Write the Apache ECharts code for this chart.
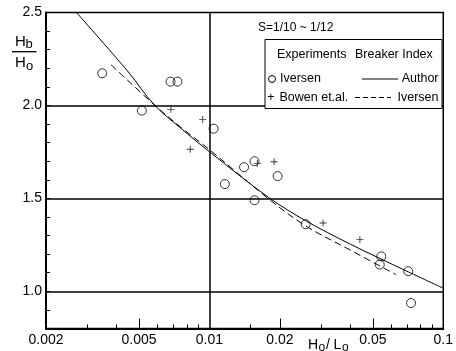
<!DOCTYPE html>
<html>
<head>
<meta charset="utf-8">
<script src="https://cdn.jsdelivr.net/npm/echarts@6/dist/echarts.min.js"></script>
<style>
html,body{margin:0;padding:0;background:#fff;}
#chart{width:456px;height:351px;}
</style>
</head>
<body>
<div id="chart"></div>
<script>
// ---- data ----
const iversenX = [0.00348, 0.00682, 0.0073, 0.00514, 0.01042, 0.01406, 0.01559, 0.01957, 0.01164, 0.01559, 0.0258, 0.0543, 0.0535, 0.0708, 0.0728];
const iversenY = [2.173, 2.128, 2.128, 1.972, 1.875, 1.668, 1.70, 1.62, 1.577, 1.49, 1.361, 1.188, 1.144, 1.108, 0.937];

const bowenX = [0.00684, 0.00936, 0.00828, 0.0189, 0.01602, 0.0306, 0.044];
const bowenY = [1.979, 1.925, 1.764, 1.697, 1.687, 1.368, 1.278];

const authorCurveX = [0.0027, 0.0045, 0.00579, 0.0075, 0.01, 0.018, 0.0258, 0.04, 0.0708, 0.1];
const authorCurveY = [2.5, 2.18, 2.005, 1.88, 1.751, 1.503, 1.38, 1.254, 1.105, 1.017];

const iversenCurveX = [0.0038, 0.00579, 0.0075, 0.01, 0.018, 0.0258, 0.04, 0.0628];
const iversenCurveY = [2.218, 2.005, 1.885, 1.762, 1.495, 1.352, 1.222, 1.09];

const xLabelValues = [0.002, 0.005, 0.01, 0.02, 0.05, 0.1];
const xMajorTickValues = [0.005, 0.02, 0.05];
const xMinorTickValues = [0.003, 0.004, 0.006, 0.007, 0.008, 0.009, 0.015, 0.03, 0.04, 0.06, 0.07, 0.08, 0.09];
const yLabelValues = [1.0, 1.5, 2.0, 2.5];
const gridLineY = [2.0, 1.5, 1.0];
const gridLineX = [0.01];

const legendTitle = 'S=1/10 ~ 1/12';
const legendHeaders = ['Experiments', 'Breaker Index'];
const legendNames = ['Iversen', 'Bowen et.al.', 'Author', 'Iversen'];

// ---- build ----
const zip = (xs, ys) => xs.map((x, i) => [x, ys[i]]);
const FONT = 'Liberation Sans, Arial, sans-serif';

const chart = echarts.init(document.getElementById('chart'), null, {renderer: 'canvas'});

const markData = gridLineY.map(v => ({yAxis: v})).concat(gridLineX.map(v => ({xAxis: v})));

const plusPath = 'path://M4,0h1.2v4h4v1.2h-4v4h-1.2v-4h-4v-1.2h4z';

const txt = (text, x, y, size, align) => ({
  type: 'text', x: x, y: y, z: 110,
  style: {text: text, fill: '#000', font: size + 'px ' + FONT, textAlign: align || 'left', textVerticalAlign: 'middle'}
});

chart.setOption({
  animation: false,
  backgroundColor: '#fff',
  grid: {left: 46, right: 8, top: 12.5, bottom: 22.5, show: true, borderColor: '#000', borderWidth: 1.5, backgroundColor: 'transparent'},
  xAxis: [{
    type: 'log', logBase: 10, min: 0.002, max: 0.1, position: 'bottom',
    axisLine: {show: true, lineStyle: {color: '#000', width: 2}},
    axisTick: {show: true, inside: true, length: 10, customValues: xMajorTickValues, lineStyle: {color: '#000', width: 1}},
    axisLabel: {show: true, customValues: xLabelValues, margin: 5, color: '#000', fontSize: 14, fontFamily: FONT,
      formatter: v => String(+(+v).toPrecision(3))},
    splitLine: {show: false}, minorTick: {show: false}
  }, {
    type: 'log', logBase: 10, min: 0.002, max: 0.1, position: 'bottom', gridIndex: 0,
    axisLine: {show: false},
    axisTick: {show: true, inside: true, length: 4, customValues: xMinorTickValues, lineStyle: {color: '#000', width: 1}},
    axisLabel: {show: false}, splitLine: {show: false}
  }],
  yAxis: {
    type: 'value', min: 0.8, max: 2.5, interval: 0.1,
    axisLine: {show: true, lineStyle: {color: '#000', width: 2}},
    axisTick: {show: true, inside: true, length: 4, lineStyle: {color: '#000', width: 1}},
    axisLabel: {show: true, margin: 4, color: '#000', fontSize: 14, fontFamily: FONT,
      formatter: v => { const r = Math.round(v * 10) / 10; return yLabelValues.some(t => Math.abs(t - r) < 1e-6) ? r.toFixed(1) : ''; }},
    splitLine: {show: false}
  },
  series: [
    {
      name: 'Author', type: 'line', data: zip(authorCurveX, authorCurveY), smooth: 0.35,
      showSymbol: false, symbol: 'none', lineStyle: {color: '#000', width: 1}, z: 3,
      markLine: {silent: true, symbol: 'none', label: {show: false}, animation: false,
        lineStyle: {color: '#000', width: 1.5, type: 'solid'}, data: markData}
    },
    {
      name: 'Iversen curve', type: 'line', data: zip(iversenCurveX, iversenCurveY), smooth: 0.35,
      showSymbol: false, symbol: 'none', lineStyle: {color: '#000', width: 1, type: [7, 4]}, z: 3
    },
    {
      name: 'Iversen', type: 'scatter', data: zip(iversenX, iversenY), symbol: 'circle', symbolSize: 9,
      itemStyle: {color: 'rgba(255,255,255,0)', borderColor: '#000', borderWidth: 1}, z: 5
    },
    {
      name: 'Bowen et.al.', type: 'scatter', data: zip(bowenX, bowenY), symbol: plusPath, symbolSize: 7,
      symbolKeepAspect: true, itemStyle: {color: '#000'}, z: 5
    }
  ],
  graphic: [
    txt(legendTitle, 258, 27.5, 12),
    {type: 'rect', z: 100, shape: {x: 265, y: 39.5, width: 177, height: 69},
      style: {fill: '#fff', stroke: '#000', lineWidth: 1}},
    txt(legendHeaders[0], 277, 55, 12.5),
    txt(legendHeaders[1], 355, 55, 12.5),
    {type: 'circle', z: 110, shape: {cx: 272, cy: 79, r: 3.5}, style: {fill: '#fff', stroke: '#000', lineWidth: 1}},
    txt(legendNames[0], 280, 79, 12.5),
    {type: 'line', z: 110, shape: {x1: 362, y1: 79, x2: 398, y2: 79}, style: {stroke: '#000', lineWidth: 1}},
    txt(legendNames[2], 438.5, 79, 12.5, 'right'),
    txt('+', 271, 97.5, 12.5, 'center'),
    txt(legendNames[1], 279.5, 97.5, 12.5),
    {type: 'line', z: 110, shape: {x1: 355, y1: 97.5, x2: 391, y2: 97.5}, style: {stroke: '#000', lineWidth: 1, lineDash: [5, 3]}},
    txt(legendNames[3], 438.5, 97.5, 12.5, 'right'),
    // y axis title H_b / H_o
    txt('H', 15, 41.5, 15),
    txt('b', 25.5, 44, 13),
    {type: 'line', z: 110, shape: {x1: 12, y1: 51.7, x2: 36.5, y2: 51.7}, style: {stroke: '#000', lineWidth: 1.3}},
    txt('H', 15, 63, 15),
    txt('o', 26, 66.5, 13),
    // x axis title H_o / L_o
    txt('H', 308, 345, 14),
    txt('o', 318.5, 347.5, 12),
    txt('/', 326, 345, 14),
    txt('L', 333.5, 345, 14),
    txt('o', 342, 347.5, 12)
  ]
});
</script>
</body>
</html>
